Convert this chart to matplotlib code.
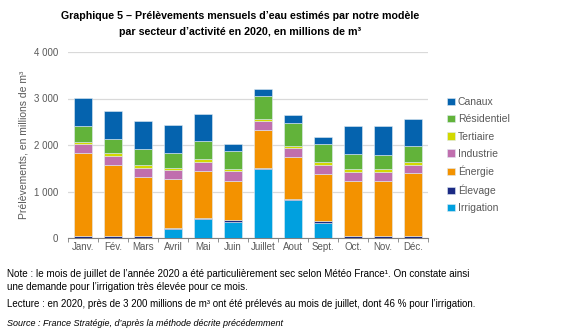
import numpy as np
import matplotlib.pyplot as plt

plt.rcParams['font.family'] = ['Liberation Sans', 'DejaVu Sans']

mois = ["Janv.", "Fév.", "Mars", "Avril", "Mai", "Juin", "Juillet", "Aout",
        "Sept.", "Oct.", "Nov.", "Déc."]

irrigation  = [5, 5, 5, 185, 400, 345, 1480, 810, 330, 5, 5, 5]
elevage     = [35, 35, 35, 30, 35, 35, 35, 35, 40, 35, 35, 35]
energie     = [1780, 1535, 1270, 1050, 1000, 855, 815, 905, 1015, 1195, 1180, 1350]
industrie   = [200, 195, 200, 195, 200, 200, 180, 175, 195, 185, 200, 180]
tertiaire   = [55, 50, 57, 50, 57, 57, 57, 50, 55, 57, 57, 57]
residentiel = [330, 310, 345, 325, 390, 375, 495, 495, 380, 340, 317, 345]
canaux      = [600, 605, 605, 595, 595, 165, 150, 165, 160, 600, 610, 597]

series = [
    ("Irrigation", irrigation, "#00a0df"),
    ("Élevage", elevage, "#1b2a84"),
    ("Énergie", energie, "#f39200"),
    ("Industrie", industrie, "#c06fae"),
    ("Tertiaire", tertiaire, "#d2d900"),
    ("Résidentiel", residentiel, "#62b33a"),
    ("Canaux", canaux, "#0563ae"),
]

fig = plt.figure(figsize=(5.66, 3.35), dpi=100)
ax = fig.add_axes([68 / 566, 1 - 238 / 335, 360 / 566, 186 / 335])

x = np.arange(len(mois))
bottom = np.zeros(len(mois))
handles = []
for nom, vals, col in series:
    b = ax.bar(x, vals, 0.57, bottom=bottom, color=col, edgecolor="#dfeaf2",
               linewidth=0.4, label=nom, zorder=3)
    handles.append(b)
    bottom += np.array(vals)

ax.set_xlim(-0.5, len(mois) - 0.5)
ax.set_ylim(0, 4000)
ax.set_yticks([0, 1000, 2000, 3000, 4000])
ax.set_yticklabels(["0", "1 000", "2 000", "3 000", "4 000"])
ax.yaxis.grid(True, color="#d9d9d9", linewidth=0.9, zorder=0)
ax.tick_params(axis="y", length=0, labelsize=7, colors="#595959", pad=7)

ax.set_xticks(x)
ax.set_xticklabels(mois)
ax.tick_params(axis="x", length=0, labelsize=7, colors="#595959", pad=3)
ax.set_xticks(np.arange(-0.5, len(mois), 1), minor=True)
ax.tick_params(axis="x", which="minor", length=3, color="#808080")

for s in ["top", "right", "left"]:
    ax.spines[s].set_visible(False)
ax.spines["bottom"].set_color("#808080")

ax.set_ylabel("Prélèvements, en millions de m³", fontsize=7.5, color="#595959",
              labelpad=4)

leg = fig.legend(handles[::-1], [s[0] for s in series][::-1],
                 loc="upper left", bbox_to_anchor=(438 / 566, 1 - 88 / 335),
                 frameon=False, fontsize=7.5, handlelength=0.7, handleheight=0.7,
                 handletextpad=0.3, labelspacing=0.68)
for t in leg.get_texts():
    t.set_color("#595959")

fig.text(240 / 566, 1 - 16 / 335,
         "Graphique 5 – Prélèvements mensuels d’eau estimés par notre modèle",
         ha="center", va="center", fontsize=7.7, fontweight="bold")
fig.text(240 / 566, 1 - 32 / 335,
         "par secteur d’activité en 2020, en millions de m³",
         ha="center", va="center", fontsize=7.7, fontweight="bold")

fig.text(7 / 566, 1 - 274 / 335,
         "Note : le mois de juillet de l’année 2020 a été particulièrement sec selon Météo France¹. On constate ainsi",
         ha="left", va="center", fontsize=7.1)
fig.text(7 / 566, 1 - 287 / 335,
         "une demande pour l’irrigation très élevée pour ce mois.",
         ha="left", va="center", fontsize=7.1)
fig.text(7 / 566, 1 - 304 / 335,
         "Lecture : en 2020, près de 3 200 millions de m³ ont été prélevés au mois de juillet, dont 46 % pour l’irrigation.",
         ha="left", va="center", fontsize=7)
fig.text(7 / 566, 1 - 323 / 335,
         "Source : France Stratégie, d’après la méthode décrite précédemment",
         ha="left", va="center", fontsize=6.5, style="italic")

fig.savefig("out.png", dpi=100)
